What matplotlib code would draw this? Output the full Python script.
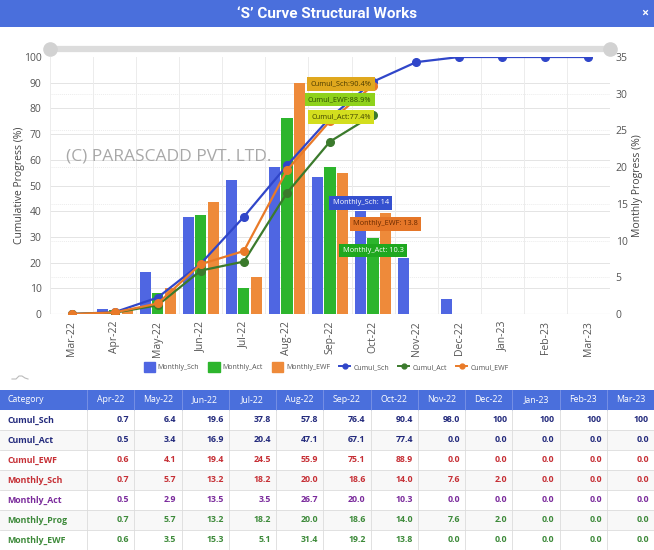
import numpy as np
import matplotlib.pyplot as plt
from matplotlib.lines import Line2D
from matplotlib.patches import Patch, Rectangle

plt.rcParams['font.family'] = ['Open Sans', 'DejaVu Sans']

# meses de la tabla (el grafico agrega Mar-22 con valor 0 al inicio)
meses_tabla = ['Apr-22', 'May-22', 'Jun-22', 'Jul-22', 'Aug-22', 'Sep-22',
               'Oct-22', 'Nov-22', 'Dec-22', 'Jan-23', 'Feb-23', 'Mar-23']
meses = ['Mar-22'] + meses_tabla

cumul_sch = [0.7, 6.4, 19.6, 37.8, 57.8, 76.4, 90.4, 98.0, 100, 100, 100, 100]
cumul_act = [0.5, 3.4, 16.9, 20.4, 47.1, 67.1, 77.4, 0.0, 0.0, 0.0, 0.0, 0.0]
cumul_ewf = [0.6, 4.1, 19.4, 24.5, 55.9, 75.1, 88.9, 0.0, 0.0, 0.0, 0.0, 0.0]
monthly_sch = [0.7, 5.7, 13.2, 18.2, 20.0, 18.6, 14.0, 7.6, 2.0, 0.0, 0.0, 0.0]
monthly_act = [0.5, 2.9, 13.5, 3.5, 26.7, 20.0, 10.3, 0.0, 0.0, 0.0, 0.0, 0.0]
monthly_prog = [0.7, 5.7, 13.2, 18.2, 20.0, 18.6, 14.0, 7.6, 2.0, 0.0, 0.0, 0.0]
monthly_ewf = [0.6, 3.5, 15.3, 5.1, 31.4, 19.2, 13.8, 0.0, 0.0, 0.0, 0.0, 0.0]

# hasta Oct-22 hay avance real
MESES_REALES = 7

filas = ['Cumul_Sch', 'Cumul_Act', 'Cumul_EWF', 'Monthly_Sch', 'Monthly_Act', 'Monthly_Prog', 'Monthly_EWF']
valores_tabla = [cumul_sch, cumul_act, cumul_ewf, monthly_sch, monthly_act, monthly_prog, monthly_ewf]
colores_fila = ['#232a7c', '#232a7c', '#c62f35', '#c62f35', '#7a2a9c', '#3d8a3a', '#3d8a3a']

AZUL_BARRA = '#4f66e2'
VERDE_BARRA = '#2db52d'
NARANJA_BARRA = '#ee8a3a'
AZUL_LINEA = '#3046c9'
VERDE_LINEA = '#3b7a2c'
NARANJA_LINEA = '#e97a28'
AZUL_TITULO = '#4a6fdc'

W, H = 654, 550
fig = plt.figure(figsize=(W / 100, H / 100), dpi=100)

# barra de titulo
fig.patches.append(Rectangle((0, 1 - 27 / H), 1, 27 / H, transform=fig.transFigure,
                             facecolor=AZUL_TITULO, edgecolor='none'))
fig.text(0.5, 1 - 13.5 / H, '\u2018S\u2019 Curve Structural Works', color='white',
         fontsize=11, fontweight='bold', ha='center', va='center', family=['Roboto', 'DejaVu Sans'])
fig.text(645 / W, 1 - 13.5 / H, '\u00d7', color='white', fontsize=9, fontweight='bold',
         ha='center', va='center')

# ejes: acumulado a la izquierda, mensual a la derecha
ax = fig.add_axes([50 / W, 1 - 314 / H, 560 / W, 257 / H])
ax2 = ax.twinx()
ax.set_zorder(ax2.get_zorder() + 1)
ax.patch.set_visible(False)

x = np.arange(len(meses))
ms = [0] + monthly_sch
ma = [0] + monthly_act
me = [0] + monthly_ewf
desp = 0.29
ancho = 0.26
ax2.bar(x - desp, ms, ancho, color=AZUL_BARRA, zorder=3)
ax2.bar(x, ma, ancho, color=VERDE_BARRA, zorder=3)
ax2.bar(x + desp, me, ancho, color=NARANJA_BARRA, zorder=3)

cs = [0] + cumul_sch
ca = ([0] + cumul_act)[:MESES_REALES + 1]
ce = ([0] + cumul_ewf)[:MESES_REALES + 1]
ax.plot(x, cs, color=AZUL_LINEA, lw=1.6, marker='o', ms=5.5, zorder=4)
ax.plot(x[:len(ca)], ca, color=VERDE_LINEA, lw=1.6, marker='o', ms=5.5, zorder=4)
ax.plot(x[:len(ce)], ce, color=NARANJA_LINEA, lw=1.6, marker='o', ms=5.5, zorder=4)

ax.set_xlim(-0.5, len(meses) - 0.5)
ax.set_ylim(0, 100)
ax2.set_ylim(0, 35)
ax.set_yticks(np.arange(0, 101, 10))
ax2.set_yticks(np.arange(0, 36, 5))
ax.set_xticks(x)
ax.set_xticklabels(meses, rotation=90)

# grilla
for v in np.arange(10, 100, 10):
    ax2.axhline(v * 35 / 100, color='#e4e4e4', lw=0.7, zorder=0)
for v in np.arange(5, 35, 5):
    ax2.axhline(v, color='#ececec', lw=0.7, ls=(0, (1, 1)), zorder=0)
for v in np.arange(-0.5, len(meses), 1):
    ax2.axvline(v, color='#ececec', lw=0.7, zorder=0)
ax2.axhline(0, color='#cfcfcf', lw=0.8, zorder=1)

for a in (ax, ax2):
    for s in a.spines.values():
        s.set_visible(False)
    a.tick_params(length=0, labelsize=7.5, labelcolor='#555555')
ax.tick_params(axis='y', pad=6)
ax2.tick_params(axis='y', pad=4)
ax.tick_params(axis='x', pad=5)

ax.set_ylabel('Cumulative Progress (%)', fontsize=7.5, color='#444444', labelpad=-1)
ax2.set_ylabel('Monthly Progress (%)', fontsize=7.5, color='#444444', labelpad=3)

# marca de agua
ax.text(0.029, 0.611, '(C) PARASCADD PVT. LTD.', transform=ax.transAxes, fontsize=12.5,
        color='#a8a8a8', ha='left', va='center', zorder=1)

# slider de zoom arriba
ax.plot([0, 1], [1.031, 1.031], transform=ax.transAxes, color='#dcdcdc', lw=4.5,
        solid_capstyle='round', clip_on=False, zorder=5)
ax.plot([0, 1], [1.031, 1.031], transform=ax.transAxes, color='#d2d2d2', ls='none',
        marker='o', ms=9.5, clip_on=False, zorder=6)

# tooltips de Oct-22
oct_i = MESES_REALES
def tooltip(a, xv, yv, txt, dx, dy, fc, tc):
    a.annotate(txt, xy=(xv, yv), xytext=(dx, dy), textcoords='offset points',
               ha='center', va='center', fontsize=5.3, color=tc, zorder=10,
               bbox=dict(boxstyle='square,pad=0.45', fc=fc, ec='none'))

tooltip(ax, oct_i, cs[oct_i], 'Cumul_Sch:90.4%', -23, -1.5, '#e0a81e', '#4a3a00')
tooltip(ax, oct_i, ce[oct_i], 'Cumul_EWF:88.9%', -24, -10, '#8fd21c', '#2c4a00')
tooltip(ax, oct_i, ca[oct_i], 'Cumul_Act:77.4%', -23, -1.5, '#d3de1e', '#3e4200')
tooltip(ax2, oct_i - desp, ms[oct_i], 'Monthly_Sch: 14', 0, 6, '#3550cf', 'white')
tooltip(ax2, oct_i + desp, me[oct_i], 'Monthly_EWF: 13.8', 0, -8, '#e57628', '#6a2a00')
tooltip(ax2, oct_i, ma[oct_i], 'Monthly_Act: 10.3', 0, -8.6, '#1fa81f', 'white')

# leyenda
handles = [Patch(color=AZUL_BARRA), Patch(color=VERDE_BARRA), Patch(color=NARANJA_BARRA),
           Line2D([], [], color=AZUL_LINEA, marker='o', ms=3.5, lw=1.4),
           Line2D([], [], color=VERDE_LINEA, marker='o', ms=3.5, lw=1.4),
           Line2D([], [], color=NARANJA_LINEA, marker='o', ms=3.5, lw=1.4)]
etiquetas = ['Monthly_Sch', 'Monthly_Act', 'Monthly_EWF', 'Cumul_Sch', 'Cumul_Act', 'Cumul_EWF']
fig.legend(handles, etiquetas, loc='center', bbox_to_anchor=(326 / W, 1 - 367 / H), ncol=6,
           frameon=False, fontsize=5, handlelength=1.6, handleheight=1.9, columnspacing=1.3,
           handletextpad=0.45, labelcolor='#555555')

# icono chiquito
fig.add_artist(Line2D(np.array([12, 16, 19, 22, 25, 28]) / W,
                      1 - np.array([379, 379, 376, 376, 378, 379]) / H,
                      color='#bbbbbb', lw=0.8))

# tabla
axt = fig.add_axes([0, 0, 1, 160 / H])
axt.set_xlim(0, W)
axt.set_ylim(160, 0)
axt.axis('off')
ALTO = 20
x_bordes = [0, 87] + [87 + (W - 87) * (i + 1) / 12 for i in range(12)]
axt.add_patch(Rectangle((0, 0), W, ALTO, facecolor=AZUL_TITULO, edgecolor='none'))
axt.text(7, ALTO / 2, 'Category', color='white', fontsize=6.3, ha='left', va='center')
for j, m in enumerate(meses_tabla):
    xc = (x_bordes[j + 1] + x_bordes[j + 2]) / 2
    axt.text(xc, ALTO / 2, m, color='white', fontsize=6.3, ha='center', va='center')
for xb in x_bordes[1:-1]:
    axt.plot([xb, xb], [0, ALTO], color='#7d95e6', lw=0.6)
for i, (fila, vals, col) in enumerate(zip(filas, valores_tabla, colores_fila)):
    y0 = ALTO * (i + 1)
    fc = '#ffffff' if i % 2 == 0 else '#f8f8f8'
    axt.add_patch(Rectangle((0, y0), W, ALTO, facecolor=fc, edgecolor='none'))
    axt.plot([0, W], [y0 + ALTO, y0 + ALTO], color='#dcdcdc', lw=0.6)
    axt.text(7, y0 + ALTO / 2, fila, color=col, fontsize=6.3, fontweight='bold',
             ha='left', va='center')
    for j, v in enumerate(vals):
        txt = f'{v:g}' if v >= 100 else f'{v:.1f}'
        axt.text(x_bordes[j + 2] - 5, y0 + ALTO / 2, txt, color=col, fontsize=6.3,
                 fontweight='bold', ha='right', va='center')
for xb in x_bordes[1:-1]:
    axt.plot([xb, xb], [ALTO, 160], color='#dcdcdc', lw=0.6)

fig.savefig('out.png', dpi=100)
